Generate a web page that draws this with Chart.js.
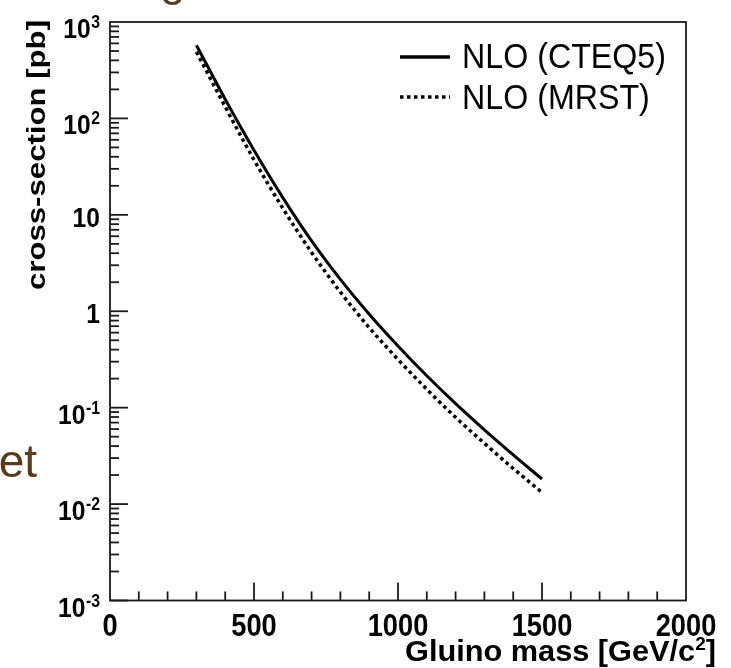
<!DOCTYPE html>
<html>
<head>
<meta charset="utf-8">
<script src="https://cdn.jsdelivr.net/npm/chart.js@4.4.1/dist/chart.umd.min.js"></script>
<style>
  html, body { margin: 0; padding: 0; background: #fff; }
  canvas { display: block; }
</style>
</head>
<body>
<canvas id="xsec" width="731" height="668"></canvas>
<script>
// --- Data ---
// gluino mass [GeV/c^2]
const masses = [300, 400, 500, 600, 700, 800, 900, 1000, 1100, 1200, 1300, 1400, 1500];
// NLO cross-section [pb] with CTEQ5 PDFs
const cteq5 = [575, 158, 46.8, 15.1, 5.37, 2.14, 0.933, 0.437, 0.214, 0.110, 0.0589, 0.0324, 0.0182];
// NLO cross-section [pb] with MRST PDFs
const mrst = [490, 132, 37.2, 11.7, 4.07, 1.58, 0.676, 0.316, 0.155, 0.0794, 0.0427, 0.0234, 0.0132];

const seriesNames = ['NLO (CTEQ5)', 'NLO (MRST)'];

// tick labels
const xTickValues = [0, 500, 1000, 1500, 2000];
const xTickLabels = ['0', '500', '1000', '1500', '2000'];
const yTickValues = [1e-3, 1e-2, 1e-1, 1, 10, 1e2, 1e3];
const yTickBase = ['10', '10', '10', '1', '10', '10', '10'];
const yTickSup = ['-3', '-2', '-1', '', '', '2', '3'];

const FONT = '"Liberation Sans", Arial, Helvetica, sans-serif';

// draw text with horizontal stretch sx, returns drawn width
function drawText(ctx, str, x, y, size, opts) {
    opts = opts || {};
    ctx.save();
    ctx.font = (opts.bold ? 'bold ' : '') + size + 'px ' + FONT;
    ctx.fillStyle = opts.color || '#000';
    ctx.textBaseline = 'alphabetic';
    ctx.textAlign = 'left';
    const sx = opts.sx || 1;
    const w = ctx.measureText(str).width * sx;
    let left = x;
    if (opts.align === 'right') left = x - w;
    else if (opts.align === 'center') left = x - w / 2;
    ctx.translate(left, y);
    ctx.scale(sx, 1);
    ctx.fillText(str, 0, 0);
    ctx.restore();
    return w;
}

function textWidth(ctx, str, size, bold) {
    ctx.save();
    ctx.font = (bold ? 'bold ' : '') + size + 'px ' + FONT;
    const w = ctx.measureText(str).width;
    ctx.restore();
    return w;
}

function seg(ctx, x1, y1, x2, y2) {
    ctx.beginPath();
    ctx.moveTo(x1, y1);
    ctx.lineTo(x2, y2);
    ctx.stroke();
}

// frame, inside ticks, labels, titles, legend
const rootStyle = {
    id: 'rootStyle',
    afterDraw(chart) {
        const ctx = chart.ctx;
        const area = chart.chartArea;
        const xs = chart.scales.x, ys = chart.scales.y;

        ctx.save();
        ctx.strokeStyle = '#1a1a1a';
        ctx.lineWidth = 1.8;
        ctx.strokeRect(area.left, area.top, area.right - area.left, area.bottom - area.top);

        // y ticks (log)
        for (let e = -3; e < 3; e++) {
            for (let m = 1; m < 10; m++) {
                const py = ys.getPixelForValue(m * Math.pow(10, e));
                seg(ctx, area.left, py, area.left + (m === 1 ? 18 : 9), py);
            }
        }
        // x ticks
        for (let v = 100; v < 2000; v += 100) {
            const px = xs.getPixelForValue(v);
            seg(ctx, px, area.bottom, px, area.bottom - (v % 500 === 0 ? 18 : 9));
        }
        ctx.restore();

        // y tick labels
        yTickValues.forEach((v, i) => {
            const py = ys.getPixelForValue(v);
            if (yTickSup[i]) {
                const sw = drawText(ctx, yTickSup[i], 100, py + 6, 18, { bold: true, sx: 0.88, align: 'right' });
                drawText(ctx, yTickBase[i], 100 - sw - 0.5, py + 16, 28, { bold: true, sx: 0.88, align: 'right' });
            } else {
                drawText(ctx, yTickBase[i], 100, py + 12, 28, { bold: true, sx: 0.88, align: 'right' });
            }
        });

        // x tick labels
        xTickValues.forEach((v, i) => {
            drawText(ctx, xTickLabels[i], xs.getPixelForValue(v), 636, 31, { bold: true, sx: 0.88, align: 'center' });
        });

        // x title, right aligned
        const xt1 = 'Gluino mass [GeV/c', xt2 = '2', xt3 = ']';
        const natural = textWidth(ctx, xt1, 29, true) + textWidth(ctx, xt2, 18, true) + textWidth(ctx, xt3, 29, true);
        const sxT = 311 / natural;
        let cx = 716 - 311;
        cx += drawText(ctx, xt1, cx, 661, 29, { bold: true, sx: sxT });
        cx += drawText(ctx, xt2, cx, 650, 18, { bold: true, sx: sxT });
        drawText(ctx, xt3, cx, 661, 29, { bold: true, sx: sxT });

        // y title, rotated
        const yt = 'cross-section [pb]';
        ctx.save();
        ctx.translate(45, 290);
        ctx.rotate(-Math.PI / 2);
        drawText(ctx, yt, 0, 0, 26, { bold: true, sx: 270 / textWidth(ctx, yt, 26, true) });
        ctx.restore();

        // legend
        ctx.save();
        ctx.strokeStyle = '#000';
        ctx.lineWidth = 3.5;
        seg(ctx, 400, 57, 450, 57);
        ctx.setLineDash([3.5, 3.5]);
        seg(ctx, 400, 97, 450, 97);
        ctx.restore();
        drawText(ctx, seriesNames[0], 462, 68, 35, { sx: 0.92 });
        drawText(ctx, seriesNames[1], 462, 109, 35, { sx: 0.92 });

        // fragments of the slide behind the plot
        drawText(ctx, 'et', 37, 477, 46, { color: '#5a3c1c', align: 'right' });
        drawText(ctx, 'g', 160, -5, 46, { color: '#5a3c1c' });
    }
};

const ctx = document.getElementById('xsec').getContext('2d');
new Chart(ctx, {
    type: 'line',
    data: {
        datasets: [
            {
                label: seriesNames[0],
                data: masses.map((m, i) => ({ x: m, y: cteq5[i] })),
                borderColor: '#000',
                borderWidth: 3,
                pointRadius: 0,
                cubicInterpolationMode: 'monotone',
                fill: false
            },
            {
                label: seriesNames[1],
                data: masses.map((m, i) => ({ x: m, y: mrst[i] })),
                borderColor: '#000',
                borderWidth: 3.5,
                borderDash: [3.5, 3.5],
                pointRadius: 0,
                cubicInterpolationMode: 'monotone',
                fill: false
            }
        ]
    },
    options: {
        responsive: false,
        animation: false,
        layout: { padding: { left: 110, right: 45, top: 22, bottom: 67.5 } },
        plugins: {
            legend: { display: false },
            tooltip: { enabled: false }
        },
        scales: {
            x: { type: 'linear', min: 0, max: 2000, display: false },
            y: { type: 'logarithmic', min: 1e-3, max: 1e3, display: false }
        }
    },
    plugins: [rootStyle]
});
</script>
</body>
</html>
